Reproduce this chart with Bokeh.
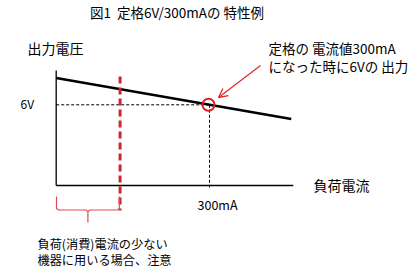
from bokeh.plotting import figure
from bokeh.models import Range1d, Arrow, OpenHead
from bokeh.core.properties import value
from bokeh.embed import file_html
from bokeh.resources import INLINE

# ---- data (schematic values) ----
current_ma = [0, 460]          # load current (mA)
voltage_v = [8.0, 4.95]        # output voltage (V)
rated_current = 300            # mA
rated_voltage = 6              # V
caution_current = 125          # mA (red dashed boundary)
x_axis_max = 464               # mA
y_axis_max = 8.55              # V

title_text = "図1\u00a0\u00a0定格6V/300mAの\u00a0特性例"
y_label = "出力電圧"
x_label = "負荷電流"
v_tick = "6V"
i_tick = "300mA"
note_lines = ["定格の\u00a0電流値300mA", "になった時に6Vの\u00a0出力"]
caution_lines = ["負荷(消費)電流の少ない", "機器に用いる場合、注意"]

W, H = 414, 271
PXX = 153.3 / 300.0   # px per mA
PXY = 80.7 / 6.0      # px per V
X0 = -55.7 / PXX
Y_TOP = 185.0 / PXY

def X(px):
    return X0 + px / PXX

def Y(py):
    return Y_TOP - py / PXY

FONT = value("Noto Sans CJK JP")

p = figure(width=W, height=H, output_backend="svg", toolbar_location=None,
           x_range=Range1d(X0, X0 + W / PXX), y_range=Range1d(Y(H), Y_TOP),
           min_border=0, x_axis_type=None, y_axis_type=None)
p.grid.visible = False
p.outline_line_color = None
p.background_fill_color = "white"
p.border_fill_color = "white"

# axes
p.line([0, x_axis_max], [0, 0], line_color="black", line_width=1.3)
p.line([0, 0], [0, y_axis_max], line_color="black", line_width=1.3)
p.line([rated_current, rated_current], [0, Y(187)], line_color="black", line_width=1)

# guide dashed lines
p.line([0, rated_current], [rated_voltage, rated_voltage], line_color="black",
       line_width=1, line_dash="3 2")
p.line([rated_current, rated_current], [rated_voltage, 0], line_color="black",
       line_width=1, line_dash="3 2")

# characteristic line
p.line(current_ma, voltage_v, line_color="black", line_width=2.5)

# rated point circle
p.scatter([rated_current - 2], [rated_voltage], size=12, fill_color=None,
          line_color="#e02020", line_width=2)

# red dashed boundary
p.line([caution_current, caution_current], [Y(76), Y(210)], line_color="#c8282f",
       line_width=3, line_dash="7 4")

# brace
bl, br = 0.6, caution_current - 1.5
bm = (bl + br) / 2
yt, yb, ytip = Y(196), Y(209.5), Y(222)
c = 2.0 / PXX
cy = 1.5 / PXY
bx = [bl, bl, bl + c, bm - c, bm, bm, bm, bm + c, br - c, br, br]
by = [yt, yb + cy, yb, yb, yb - cy, ytip, yb - cy, yb, yb, yb + cy, yt]
p.line(bx, by, line_color="#e04a55", line_width=1.2)

# arrow
p.add_layout(Arrow(x_start=X(260), y_start=Y(65), x_end=X(218), y_end=Y(97),
                   line_color="#e02a2a", line_width=1.3,
                   end=OpenHead(size=9, line_color="#e02a2a", line_width=1.3)))

# texts
def txt(px, py, s, size, align="left", color="black"):
    p.text([X(px)], [Y(py)], text=[s], text_font=FONT, text_font_size=f"{size}px",
           text_align=align, text_baseline="middle", text_color=color)

txt(176.5, 11, title_text, 13.5, "center")
txt(27, 47.5, y_label, 14)
txt(20, 103, v_tick, 12)
txt(313, 184.5, x_label, 14)
txt(217, 203.5, i_tick, 12.5, "center")
txt(268, 47, note_lines[0], 13.5)
txt(268, 65, note_lines[1], 13.5)
txt(37, 243, caution_lines[0], 12.2)
txt(37, 259, caution_lines[1], 12.2)

open("out.html", "w").write(file_html(p, INLINE))
